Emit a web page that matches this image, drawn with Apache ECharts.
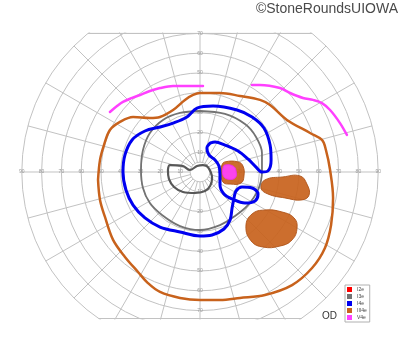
<!DOCTYPE html>
<html><head><meta charset="utf-8">
<script src="https://cdn.jsdelivr.net/npm/echarts@6/dist/echarts.min.js"></script>
<style>html,body{margin:0;padding:0;background:#fff}#c{width:400px;height:352px}</style>
</head><body><div id="c"></div>
<script>
// grid definition (degrees of eccentricity)
const ringRadii = [5, 10, 20, 30, 40, 50, 60, 70, 80, 90];
const meridianAngles = [0, 15, 30, 45, 60, 75, 90, 105, 120, 135, 150, 165, 180, 195, 210, 225, 240, 255, 270, 285, 300, 315, 330, 345];
const hTickLabels = [10, 20, 30, 40, 50, 60, 70, 80, 90];
const vTickLabels = [10, 20, 30, 40, 50, 60, 70];
const topLimit = 70;
const bottomLimit = -74;

// isopters, [x, y] in degrees (x: + right, y: + up)
const isopterI3e = [[0,30.8],[12.6,29.3],[22.7,24.2],[28.3,17.7],[31.3,9.6],[31.3,0],[29.3,-9.1],[24.2,-16.7],[17.7,-22.2],[10.1,-26.8],[0,-29.3],[-10.1,-27.3],[-19.2,-21.7],[-25.3,-15.7],[-28.8,-8.1],[-29.8,1.0],[-28.8,11.1],[-25.3,19.7],[-18.7,26.3],[-10.1,29.8],[0,30.8]];
const isopterI3eCentral = [[-16.2,1.0],[-15.2,3.5],[-8.6,3.0],[-5.1,1.0],[-1.5,3.0],[1.5,3.5],[4.0,2.5],[6.1,-3.0],[5.1,-7.1],[2.5,-9.6],[-2.5,-10.6],[-8.6,-10.1],[-13.1,-7.6],[-15.7,-3.5],[-16.2,1.0]];
const isopterI4e = [[5.1,14.6],[3.5,12.1],[4.5,8.6],[7.6,6.1],[9.6,3.0],[10.1,-1.5],[10.1,-6.6],[12.1,-11.1],[16.2,-13.6],[22.7,-15.7],[27.8,-14.6],[29.3,-11.1],[26.3,-8.1],[21.2,-7.6],[18.2,-9.6],[17.2,-13.1],[16.2,-18.2],[15.2,-24.2],[12.1,-28.8],[6.1,-31.8],[0,-32.3],[-10.1,-30.3],[-20.2,-27.8],[-27.8,-23.2],[-33.8,-16.7],[-37.4,-9.1],[-38.9,0],[-37.9,8.6],[-34.3,16.2],[-27.8,20.7],[-20.2,22.7],[-13.6,24.7],[-6.6,27.8],[-1.5,32.3],[6.6,33.3],[18.7,31.3],[26.3,27.8],[32.3,22.2],[35.4,13.6],[35.9,6.1],[34.3,0.5],[31.3,0],[28.3,2.5],[24.2,6.6],[19.2,10.6],[12.6,13.6],[7.6,15.2],[5.1,14.6]];
const isopterIII4e = [[-51.5,-4.0],[-50.5,6.1],[-48.5,13.6],[-45.5,21.2],[-40.4,25.3],[-33.8,27.8],[-25.3,27.3],[-20.2,27.8],[-13.6,31.3],[-7.6,36.4],[-3.5,38.9],[0,39.9],[10.1,39.9],[20.2,38.4],[30.3,36.4],[35.4,33.8],[43.9,26.3],[55.6,19.7],[61.6,16.2],[63.6,11.1],[65.7,1.0],[67.2,-13.1],[66.2,-26.8],[63.1,-38.4],[56.6,-48.5],[46.5,-57.1],[32.8,-62.1],[20.2,-63.6],[10.1,-64.6],[0,-64.6],[-10.1,-63.6],[-20.2,-60.6],[-26.3,-56.1],[-31.3,-50.5],[-37.9,-42.9],[-43.9,-34.3],[-48.0,-22.7],[-50.5,-14.1],[-51.5,-4.0]];
const isopterV4eNasal = [[-45.5,30.3],[-41.9,33.3],[-38.9,35.4],[-34.3,37.4],[-30.3,38.9],[-25.3,40.9],[-20.2,42.4],[-13.6,43.4],[-5.1,43.4],[1.5,43.4]];
const isopterV4eTemporal = [[26.3,43.9],[30.3,43.9],[40.4,42.4],[45.5,39.9],[52.0,37.4],[57.1,36.4],[61.6,34.8],[65.7,31.3],[70.7,24.7],[74.2,18.7]];

// scotomas (filled)
const scotomaIII4eBlind = [[12.6,5.1],[19.2,5.1],[21.7,3.0],[22.2,-2.0],[20.7,-5.6],[15.2,-6.1],[11.6,-5.1],[10.6,0],[11.1,3.5]];
const scotomaV4eBlind = [[12.6,3.5],[16.7,3.0],[18.2,0.5],[17.7,-3.0],[13.6,-3.5],[11.6,-1.5],[11.6,2.0]];
const scotomaIII4eA = [[30.8,-8.1],[32.8,-4.0],[41.9,-2.5],[50.5,-2.0],[54.0,-6.1],[55.1,-11.6],[51.5,-14.1],[42.9,-13.1],[34.3,-11.1]];
const scotomaIII4eB = [[23.2,-27.3],[26.3,-21.2],[32.8,-19.2],[41.4,-20.2],[47.5,-23.2],[49.0,-28.3],[46.5,-34.3],[40.4,-37.4],[31.8,-37.9],[25.8,-34.8]];

const legendNames = ['I2e', 'I3e', 'I4e', 'III4e', 'V4e'];
const COL = { I2e: '#ff0000', I3e: '#6a6a6a', I4e: '#0000f0', III4e: '#c8621c', V4e: '#ff40ff' };
const GRID_COLOR = '#c2c2c2';

const chart = echarts.init(document.getElementById('c'), null, { renderer: 'canvas' });

function gridRender(params, api) {
  const c = api.coord([0, 0]);
  const children = [];
  ringRadii.forEach(r => {
    const rp = api.size([r, 0])[0];
    children.push({ type: 'circle', shape: { cx: c[0], cy: c[1], r: rp }, style: { fill: null, stroke: GRID_COLOR, lineWidth: 1 } });
  });
  meridianAngles.forEach(a => {
    const rad = a * Math.PI / 180;
    const p0 = api.coord([5 * Math.cos(rad), 5 * Math.sin(rad)]);
    const p1 = api.coord([90 * Math.cos(rad), 90 * Math.sin(rad)]);
    children.push({ type: 'line', shape: { x1: p0[0], y1: p0[1], x2: p1[0], y2: p1[1] }, style: { stroke: GRID_COLOR, lineWidth: 1 } });
  });
  [topLimit, bottomLimit].forEach(y => {
    const hw = Math.sqrt(90 * 90 - y * y);
    const a = api.coord([-hw, y]), b = api.coord([hw, y]);
    children.push({ type: 'line', shape: { x1: a[0], y1: a[1], x2: b[0], y2: b[1] }, style: { stroke: GRID_COLOR, lineWidth: 1.2 } });
  });
  return { type: 'group', children };
}

function blobSeries(name, pts, fill, stroke, z) {
  return {
    type: 'custom', name: name, z: z, silent: true,
    data: [[pts[0][0], pts[0][1]]],
    renderItem: function (params, api) {
      const poly = pts.map(p => api.coord(p));
      return { type: 'polygon', shape: { points: poly, smooth: 0.45 }, style: { fill: fill, stroke: stroke, lineWidth: 1, opacity: 0.92 } };
    }
  };
}

const tickData = [];
hTickLabels.forEach(v => { tickData.push([-v, 0, v]); tickData.push([v, 0, v]); });
vTickLabels.forEach(v => { tickData.push([0, v, v]); tickData.push([0, -v, v]); });

function lineSeries(name, data, color, width, z) {
  return { type: 'line', name: name, data: data, smooth: 0.35, symbol: 'none', z: z, silent: true,
    lineStyle: { color: color, width: width, cap: 'round', join: 'round' }, itemStyle: { color: color } };
}

const option = {
  animation: false,
  backgroundColor: '#fff',
  grid: { left: 21.8, right: 21.8, top: 32.4, bottom: 32.5 },
  xAxis: { type: 'value', min: -90, max: 90, show: false },
  yAxis: { type: 'value', min: -74.5, max: 70.5, show: false },
  legend: {
    data: legendNames, orient: 'vertical', left: 345, top: 285, itemWidth: 5, itemHeight: 5, itemGap: 2,
    icon: 'rect', padding: [2, 3, 2, 2], borderColor: '#b0b0b0', borderWidth: 1, backgroundColor: '#fff',
    selectedMode: false,
    textStyle: { fontSize: 5, color: '#444', fontFamily: 'Liberation Sans' }
  },
  graphic: [
    { type: 'text', right: 2, top: 2, style: { text: '©StoneRoundsUIOWA', font: '14px "Liberation Sans", Arial, sans-serif', fill: '#4a4a4a' } },
    { type: 'text', left: 322, top: 311, style: { text: 'OD', font: '10px "Liberation Sans", Arial, sans-serif', fill: '#333' } }
  ],
  series: [
    { type: 'custom', name: 'grid', clip: true, silent: true, z: 1, data: [[0, 0]], renderItem: gridRender },
    { type: 'custom', name: 'ticks', silent: true, z: 2, data: tickData,
      renderItem: function (params, api) {
        const p = api.coord([api.value(0), api.value(1)]);
        return { type: 'text', x: p[0], y: p[1], style: { text: String(api.value(2)), fontSize: 5, fontFamily: 'Liberation Sans', fill: '#9a9a9a', align: 'center', verticalAlign: 'middle' } };
      } },
    blobSeries('III4e-blind', scotomaIII4eBlind, COL.III4e, '#b0551a', 3),
    blobSeries('III4e-a', scotomaIII4eA, COL.III4e, '#b0551a', 3),
    blobSeries('III4e-b', scotomaIII4eB, COL.III4e, '#b0551a', 3),
    blobSeries('V4e-blind', scotomaV4eBlind, COL.V4e, '#ee30ee', 4),
    lineSeries('I2e', [], COL.I2e, 2, 5),
    lineSeries('I3e', isopterI3e, '#737373', 1.8, 5),
    lineSeries('I3e', isopterI3eCentral, '#585858', 2.2, 6),
    lineSeries('III4e', isopterIII4e, COL.III4e, 2.5, 6),
    lineSeries('V4e', isopterV4eNasal, COL.V4e, 2.5, 6),
    lineSeries('V4e', isopterV4eTemporal, COL.V4e, 2.5, 6),
    lineSeries('I4e', isopterI4e, COL.I4e, 3, 7)
  ]
};
chart.setOption(option);
</script>
</body></html>
